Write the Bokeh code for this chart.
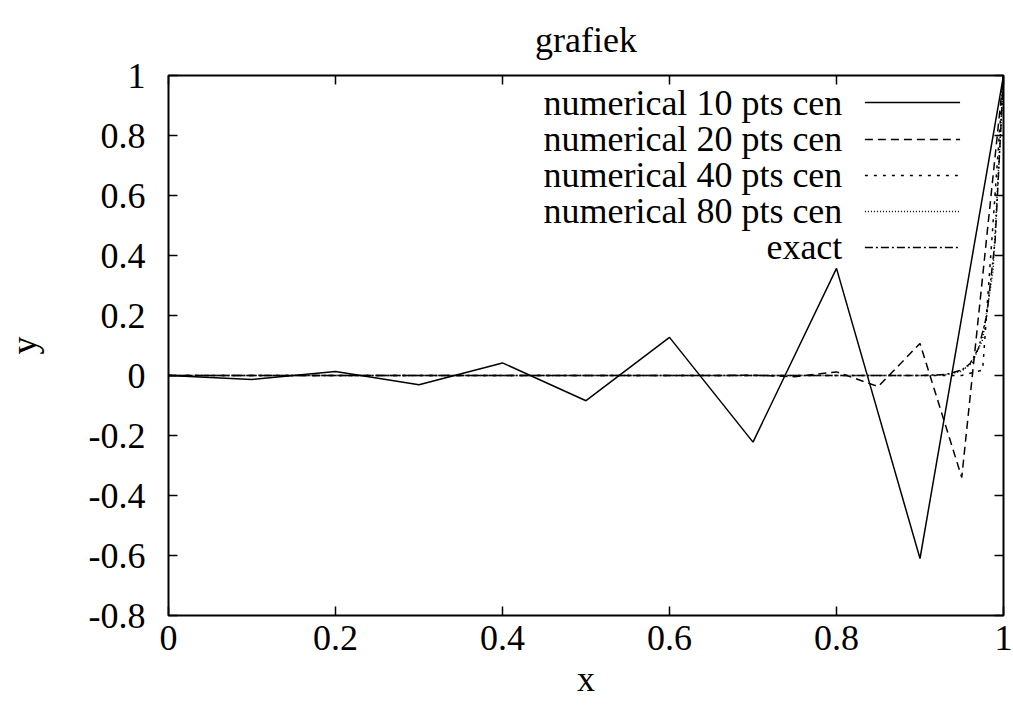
import numpy as np
from bokeh.plotting import figure
from bokeh.models import Range1d, FixedTicker, LinearAxis, CustomJSTickFormatter, Label, Arrow
from bokeh.embed import file_html
from bokeh.resources import INLINE

# ---- data ----
x10 = np.linspace(0, 1, 11)
y10 = [0.0, -0.013, 0.013, -0.031, 0.042, -0.084, 0.127, -0.222, 0.357, -0.61, 1.0]

x20 = np.linspace(0, 1, 21)
y20 = [0.0, 0.0, 0.0, 0.0, 0.0, 0.0, 0.0, 0.0, 0.0, 0.0,
       0.0, 0.0, 0.0001, -0.0004, 0.0013, -0.004, 0.012, -0.037, 0.107, -0.34,
       1.0]

x40 = np.linspace(0, 1, 41)
y40 = [0.0, 0.0, 0.0, 0.0, 0.0, 0.0, 0.0, 0.0, 0.0, 0.0,
       0.0, 0.0, 0.0, 0.0, 0.0, 0.0, 0.0, 0.0, 0.0, 0.0,
       0.0, 0.0, 0.0, 0.0, 0.0, 0.0, 0.0, 0.0, 0.0, 0.0,
       0.0, 0.0, 0.0, 0.0, 0.0, 0.0, 0.0, 0.0, 0.0003, 0.018,
       1.0]

x80 = np.linspace(0, 1, 81)
y80 = [0.0, 0.0, 0.0, 0.0, 0.0, 0.0, 0.0, 0.0, 0.0, 0.0,
       0.0, 0.0, 0.0, 0.0, 0.0, 0.0, 0.0, 0.0, 0.0, 0.0,
       0.0, 0.0, 0.0, 0.0, 0.0, 0.0, 0.0, 0.0, 0.0, 0.0,
       0.0, 0.0, 0.0, 0.0, 0.0, 0.0, 0.0, 0.0, 0.0, 0.0,
       0.0, 0.0, 0.0, 0.0, 0.0, 0.0, 0.0, 0.0, 0.0, 0.0,
       0.0, 0.0, 0.0, 0.0, 0.0, 0.0, 0.0, 0.0, 0.0, 0.0,
       0.0, 0.0, 0.0, 0.0, 0.0, 0.0, 0.0, 0.0, 0.0, 0.0,
       0.0, 0.0, 0.0, 0.0, 0.002, 0.005, 0.015, 0.043, 0.12, 0.35,
       1.0]

x_exact = [0.0, 0.5, 0.9, 0.93, 0.95, 0.96, 0.97, 0.98, 0.99, 1.0]
y_exact = [0.0, 0.0, 0.0003, 0.003, 0.018, 0.04, 0.09, 0.2, 0.45, 1.0]

series_labels = ["numerical 10 pts cen", "numerical 20 pts cen",
                 "numerical 40 pts cen", "numerical 80 pts cen", "exact"]
x_ticks = [0, 0.2, 0.4, 0.6, 0.8, 1.0]
y_ticks = [-0.8, -0.6, -0.4, -0.2, 0, 0.2, 0.4, 0.6, 0.8, 1.0]
title_text = "grafiek"

FONT = "Liberation Serif"
FS = "36px"

p = figure(width=1013, height=724, output_backend="svg", toolbar_location=None,
           x_range=Range1d(0, 1), y_range=Range1d(-0.8, 1.0),
           min_border_left=168, min_border_right=10, min_border_top=75,
           min_border_bottom=109, x_axis_label="x", y_axis_label="y",
           title=title_text)
p.grid.visible = False
p.outline_line_color = "black"
p.outline_line_width = 2
p.background_fill_color = "white"
p.border_fill_color = "white"

p.title.text_font = FONT
p.title.text_font_size = FS
p.title.text_font_style = "normal"
p.title.text_color = "black"
p.title.align = "center"
p.title.text_line_height = 0.6
p.title.standoff = 32

fmt = CustomJSTickFormatter(code="""
    if (Math.abs(tick) < 1e-9) return "0";
    return String(Math.round(tick * 10) / 10);
""")
blank = CustomJSTickFormatter(code='return "";')

for ax in p.xaxis + p.yaxis:
    ax.major_label_text_font = FONT
    ax.major_label_text_font_size = FS
    ax.major_label_text_color = "black"
    ax.axis_label_text_font = FONT
    ax.axis_label_text_font_size = FS
    ax.axis_label_text_font_style = "normal"
    ax.axis_label_text_color = "black"
    ax.major_tick_in = 9
    ax.major_tick_out = 0
    ax.minor_tick_in = 0
    ax.minor_tick_out = 0
    ax.major_tick_line_width = 1.5
    ax.major_tick_line_color = "black"
    ax.axis_line_color = None
    ax.formatter = fmt

p.xaxis.ticker = FixedTicker(ticks=x_ticks)
p.yaxis.ticker = FixedTicker(ticks=y_ticks)
p.xaxis.major_label_standoff = 10
p.xaxis.axis_label_standoff = 6
p.yaxis.major_label_standoff = 23
p.yaxis.axis_label_standoff = 42

# mirrored ticks on top and right
top = LinearAxis(ticker=FixedTicker(ticks=x_ticks), formatter=blank,
                 major_tick_in=9, major_tick_out=0,
                 minor_tick_in=0, minor_tick_out=0, axis_line_color=None,
                 major_label_standoff=0, major_tick_line_width=1.5,
                 major_tick_line_color="black")
right = LinearAxis(ticker=FixedTicker(ticks=y_ticks), formatter=blank,
                   major_tick_in=9, major_tick_out=0,
                   minor_tick_in=0, minor_tick_out=0, axis_line_color=None,
                   major_label_standoff=0, major_tick_line_width=1.5,
                   major_tick_line_color="black")
p.add_layout(top, "above")
p.add_layout(right, "right")

dashes = ["solid", "8 5", "3 6", "1 2", "8 3 2 3"]
data = [(x10, y10), (x20, y20), (x40, y40), (x80, y80), (x_exact, y_exact)]
for (xs, ys), d in zip(data, dashes):
    p.line(list(xs), ys, line_color="black", line_width=1.5, line_dash=d)

# gnuplot-style key: right-aligned text, sample line to the right
key_rows = [0.91, 0.787, 0.667, 0.547, 0.427]
for lab, d, yk in zip(series_labels, dashes, key_rows):
    p.add_layout(Label(x=0.807, y=yk, text=lab, text_align="right",
                       text_baseline="middle", text_font=FONT, text_font_size=FS,
                       text_color="black"))
    p.add_layout(Arrow(x_start=0.834, y_start=yk, x_end=0.948, y_end=yk, end=None,
                       line_color="black", line_width=1.5, line_dash=d))

open("out.html", "w").write(file_html(p, INLINE))
